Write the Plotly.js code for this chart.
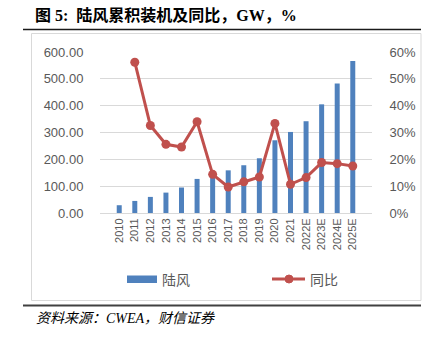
<!DOCTYPE html>
<html>
<head>
<meta charset="utf-8">
<script src="https://cdn.plot.ly/plotly-3.0.1.min.js"></script>
<style>
html,body{margin:0;padding:0;background:#fff;}
#chart{width:432px;height:341px;}
</style>
</head>
<body>
<div id="chart"></div>
<script>
const categories = ["2010","2011","2012","2013","2014","2015","2016","2017","2018","2019","2020","2021","2022E","2023E","2024E","2025E"];
const onshoreGW = [29, 45, 60, 76, 95, 127, 139, 159, 178, 204, 271, 302, 342, 405, 483, 566];
const yoyPct = [null, 0.562, 0.326, 0.256, 0.246, 0.340, 0.144, 0.097, 0.116, 0.134, 0.334, 0.107, 0.132, 0.188, 0.184, 0.175];
const seriesNames = ["陆风", "同比"];
const titleText = "图 5:  陆风累积装机及同比，GW，%";
const sourceText = "资料来源：CWEA，财信证券";

const BLUE = "#4f81bd";
const RED = "#c0504d";
const GRID = "#d9d9d9";
const TICK = "#595959";

// plot area in px: x 100..372, y 52..213
const PL = 100, PR = 372, PT = 52, PB = 213;
const px = v => (v - PL) / (PR - PL);
const py = v => (PB - v) / (PB - PT);

const traces = [
  {type: "bar", x: categories, y: onshoreGW, name: seriesNames[0],
   marker: {color: BLUE}, width: 0.32, yaxis: "y", showlegend: false},
  {type: "scatter", mode: "lines+markers", x: categories, y: yoyPct, name: seriesNames[1],
   line: {color: RED, width: 3}, marker: {color: RED, size: 9}, yaxis: "y2",
   connectgaps: false, showlegend: false}
];

const shapes = [
  {type: "line", xref: "paper", yref: "paper", x0: px(23), x1: px(421), y0: py(29.5), y1: py(29.5),
   line: {color: "#1a1a1a", width: 1.5}},
  {type: "rect", xref: "paper", yref: "paper", x0: px(31.5), x1: px(421), y0: py(300.5), y1: py(33.5),
   line: {color: "#d9d9d9", width: 1}, fillcolor: "rgba(0,0,0,0)", layer: "below"},
  {type: "line", xref: "paper", yref: "paper", x0: px(23), x1: px(421), y0: py(305.5), y1: py(305.5),
   line: {color: "#404040", width: 2}},
  {type: "rect", xref: "paper", yref: "paper", x0: px(127), x1: px(157), y0: py(283), y1: py(275.5),
   line: {width: 0}, fillcolor: BLUE},
  {type: "line", xref: "paper", yref: "paper", x0: px(272), x1: px(305), y0: py(279), y1: py(279),
   line: {color: RED, width: 3}},
  {type: "circle", xref: "paper", yref: "paper", x0: px(285), x1: px(293), y0: py(283), y1: py(275),
   line: {color: RED, width: 1}, fillcolor: RED}
];

const annotations = [
  {xref: "paper", yref: "paper", x: px(33), y: py(15.5), xanchor: "left", yanchor: "middle",
   text: "<b>" + titleText + "</b>", showarrow: false,
   font: {family: "Liberation Serif, Noto Sans CJK SC, serif", size: 16, color: "#000"}},
  {xref: "paper", yref: "paper", x: px(34), y: py(318), xanchor: "left", yanchor: "middle",
   text: "<i>" + sourceText + "</i>", showarrow: false,
   font: {family: "Liberation Serif, Noto Sans CJK SC, serif", size: 14, color: "#000"}},
  {xref: "paper", yref: "paper", x: px(160), y: py(279), xanchor: "left", yanchor: "middle",
   text: seriesNames[0], showarrow: false,
   font: {family: "Noto Sans CJK SC, sans-serif", size: 14, color: TICK}},
  {xref: "paper", yref: "paper", x: px(308), y: py(279), xanchor: "left", yanchor: "middle",
   text: seriesNames[1], showarrow: false,
   font: {family: "Noto Sans CJK SC, sans-serif", size: 14, color: TICK}}
];

const layout = {
  width: 432, height: 341,
  margin: {l: PL, r: 432 - PR, t: PT, b: 341 - PB, pad: 0},
  paper_bgcolor: "#fff", plot_bgcolor: "#fff",
  font: {family: "Liberation Sans, Arial, sans-serif", color: TICK},
  bargap: 0.5,
  xaxis: {
    type: "category", tickangle: -90, tickfont: {size: 11, color: TICK},
    showgrid: false, showline: true, linecolor: GRID, linewidth: 1,
    ticks: "", automargin: false, fixedrange: true
  },
  yaxis: {
    range: [0, 600], dtick: 100, tickformat: ".2f",
    tickfont: {size: 13, color: TICK}, showgrid: true, gridcolor: GRID, gridwidth: 1,
    zeroline: false, showline: false, ticks: "outside", ticklen: 13, tickcolor: "rgba(0,0,0,0)",
    automargin: false
  },
  yaxis2: {
    range: [0, 0.6], dtick: 0.1, tickformat: ".0%", overlaying: "y", side: "right",
    tickfont: {size: 13, color: TICK}, showgrid: false, zeroline: false, showline: false,
    ticks: "outside", ticklen: 14, tickcolor: "rgba(0,0,0,0)", automargin: false
  },
  showlegend: false,
  shapes: shapes,
  annotations: annotations
};

Plotly.newPlot("chart", traces, layout, {displayModeBar: false, staticPlot: true});
</script>
</body>
</html>
